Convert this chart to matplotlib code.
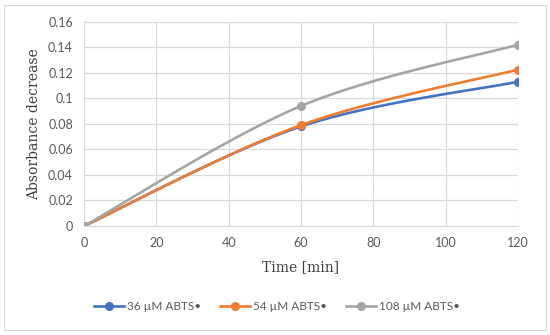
import numpy as np
import matplotlib
matplotlib.use("Agg")
import matplotlib.pyplot as plt
from matplotlib.patches import Rectangle

# data
time_min = [0, 60, 120]
abs_36 = [0.0, 0.078, 0.113]
abs_54 = [0.0, 0.079, 0.1225]
abs_108 = [0.0, 0.094, 0.142]
labels = ["36 \u00b5M ABTS\u2022", "54 \u00b5M ABTS\u2022", "108 \u00b5M ABTS\u2022"]
colors = ["#4472C4", "#ED7D31", "#A5A5A5"]


def smooth(x, y, n=60):
    """Excel-like smoothed line: cubic Bezier with Catmull-Rom control points."""
    x = np.asarray(x, float)
    y = np.asarray(y, float)
    px = np.concatenate([[x[0]], x, [x[-1]]])
    py = np.concatenate([[y[0]], y, [y[-1]]])
    xs, ys = [], []
    t = np.linspace(0, 1, n)
    for i in range(1, len(px) - 2):
        p0 = np.array([px[i], py[i]])
        p3 = np.array([px[i + 1], py[i + 1]])
        c1 = p0 + (np.array([px[i + 1], py[i + 1]]) - np.array([px[i - 1], py[i - 1]])) / 6
        c2 = p3 - (np.array([px[i + 2], py[i + 2]]) - np.array([px[i], py[i]])) / 6
        b = ((1 - t) ** 3)[:, None] * p0 + (3 * (1 - t) ** 2 * t)[:, None] * c1 \
            + (3 * (1 - t) * t ** 2)[:, None] * c2 + (t ** 3)[:, None] * p3
        xs.append(b[:, 0])
        ys.append(b[:, 1])
    return np.concatenate(xs), np.concatenate(ys)


fig = plt.figure(figsize=(5.5, 3.35), dpi=100)
fig.patches.append(Rectangle((4 / 550, 5 / 335), 542 / 550, 325 / 335, transform=fig.transFigure,
                             fill=False, edgecolor="#D9D9D9", linewidth=0.8))
ax = fig.add_axes([84 / 550, 1 - 226 / 335, 434 / 550, 204.3 / 335])

for ys, lab, col in zip([abs_36, abs_54, abs_108], labels, colors):
    sx, sy = smooth(time_min, ys)
    ax.plot(sx, sy, color=col, linewidth=1.9, solid_capstyle="round")
    ax.plot(time_min, ys, "o", color=col, markersize=5.5)
    ax.plot([], [], "-o", color=col, linewidth=1.9, markersize=5.5, label=lab)

ax.set_xlim(0, 120)
ax.set_ylim(0, 0.16)
ax.set_xticks(np.arange(0, 121, 20))
ax.set_yticks(np.arange(0, 0.161, 0.02))
ax.set_yticklabels(["0", "0.02", "0.04", "0.06", "0.08", "0.1", "0.12", "0.14", "0.16"])
ax.grid(True, color="#D9D9D9", linewidth=0.9)
ax.set_axisbelow(True)
for s in ["top", "right", "left"]:
    ax.spines[s].set_visible(False)
ax.spines["bottom"].set_color("#D9D9D9")
ax.tick_params(length=0, labelsize=9, labelcolor="#595959", pad=8)
for t in ax.get_xticklabels() + ax.get_yticklabels():
    t.set_family("Lato")

ax.set_xlabel("Time [min]", family="DejaVu Serif", fontsize=10, color="#404040", labelpad=8)
ax.set_ylabel("Absorbance decrease", family="DejaVu Serif", fontsize=10, color="#404040", labelpad=5)

leg = fig.legend(loc="center", bbox_to_anchor=(0.503, 1 - 307 / 335), ncol=3, frameon=False,
                 prop={"family": "Lato", "size": 8.5}, handlelength=2.6, columnspacing=1.6,
                 handletextpad=0.2)
for t in leg.get_texts():
    t.set_color("#595959")

fig.savefig("out.png", dpi=100)
